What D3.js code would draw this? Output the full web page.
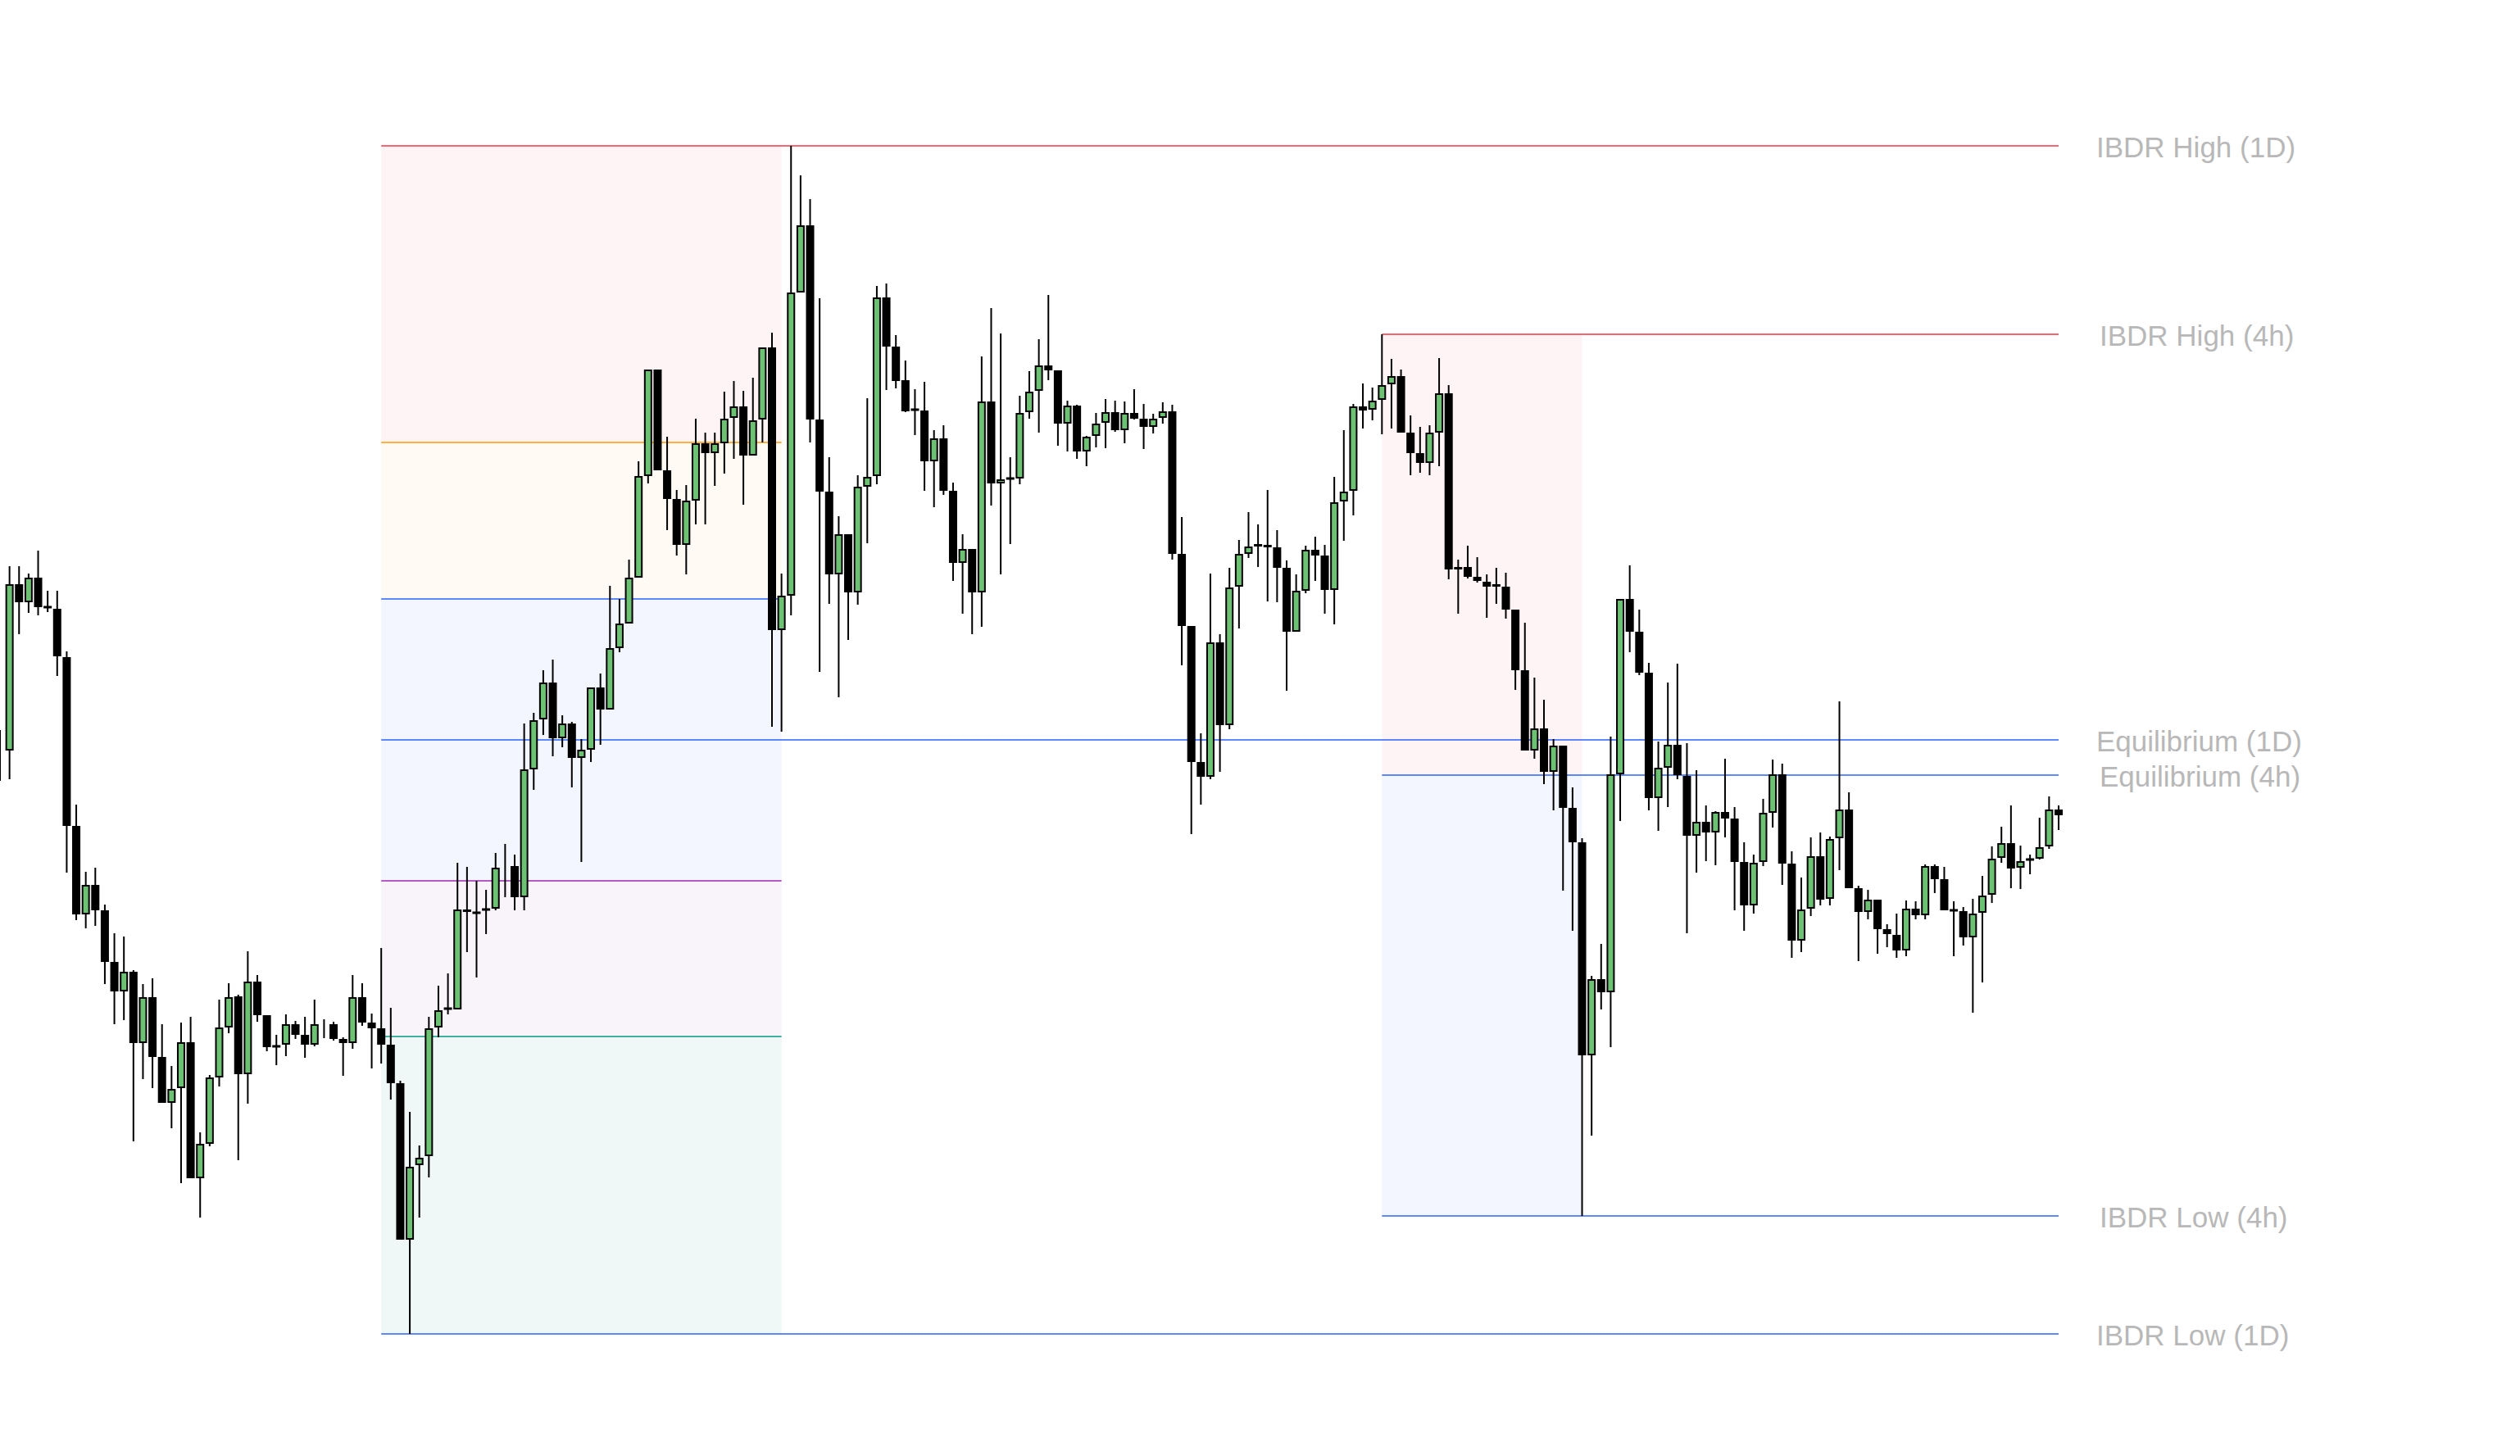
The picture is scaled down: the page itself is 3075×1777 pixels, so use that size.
<!DOCTYPE html>
<html>
<head>
<meta charset="utf-8">
<script src="https://cdn.jsdelivr.net/npm/d3@7"></script>
<style>
html,body{margin:0;padding:0;background:#ffffff;}
svg{display:block;}
</style>
</head>
<body>
<svg id="chart" width="3075" height="1777"></svg>
<script>
// ---- candle data (price units) ----
const open = [1087,1084,1287,1265,1295,1260,1257,1198,992,884,
920,889,826,790,814,727,783,710,654,672,
728,562,604,685,746,784,689,802,761,724,
725,750,737,725,751,750,732,727,783,752,
745,725,678,487,578,589,746,768,768,890,
885,891,891,943,943,905,1061,1122,1167,1099,
1117,1075,1085,1161,1134,1209,1239,1295,1419,1549,
1426,1391,1335,1389,1459,1447,1459,1490,1504,1444,
1488,1576,1231,1273,1643,1725,1488,1400,1299,1348,
1277,1406,1419,1637,1577,1536,1501,1499,1437,1465,
1401,1313,1330,1277,1510,1410,1415,1416,1497,1523,
1554,1548,1483,1505,1449,1468,1484,1497,1475,1496,
1489,1479,1490,1498,1324,1236,1070,1052,1216,1115,
1284,1324,1335,1334,1332,1307,1229,1279,1329,1322,
1280,1388,1401,1504,1500,1512,1531,1541,1472,1447,
1435,1472,1520,1305,1308,1296,1290,1286,1284,1256,
1182,1084,1111,1058,1090,1014,972,712,805,789,
1055,1269,1229,1179,1026,1063,1091,1053,980,997,
984,1009,1001,948,895,948,1008,1055,946,852,
891,955,903,977,1012,916,887,902,866,859,
840,891,883,943,927,890,888,856,886,908,
953,971,941,952,952,967,1012];

const high = [1109,1309,1309,1300,1328,1279,1279,1205,1018,936,
941,896,861,857,816,799,806,750,699,752,
759,618,688,780,800,786,839,810,761,737,
762,754,759,780,756,753,734,810,800,763,
843,770,681,643,602,759,797,812,947,942,
925,914,959,970,957,1117,1130,1182,1195,1127,
1119,1098,1161,1178,1285,1269,1317,1437,1549,1549,
1467,1402,1408,1489,1472,1472,1522,1535,1523,1539,
1576,1594,1300,1822,1786,1757,1636,1442,1370,1348,
1420,1514,1651,1654,1591,1560,1525,1534,1475,1481,
1411,1348,1330,1565,1624,1593,1442,1517,1547,1586,
1640,1548,1511,1506,1468,1496,1513,1511,1510,1525,
1507,1495,1509,1506,1369,1236,1105,1300,1226,1307,
1341,1375,1360,1402,1353,1316,1299,1334,1345,1335,
1418,1475,1507,1532,1527,1592,1562,1549,1493,1479,
1481,1563,1530,1317,1334,1320,1299,1307,1301,1256,
1240,1173,1146,1098,1090,1039,977,809,848,1101,
1269,1310,1256,1191,1095,1167,1190,1093,1060,1017,
1010,1074,1015,972,957,1025,1073,1068,961,929,
978,984,979,1144,1033,919,914,902,872,885,
901,900,945,945,942,900,893,903,931,967,
991,1017,968,957,1002,1028,1017];

const low = [1047,1049,1226,1252,1249,1253,1175,935,877,867,
870,799,750,755,607,683,672,654,623,556,
562,514,601,674,739,584,653,753,717,700,
711,732,709,723,733,730,687,720,748,696,
702,658,487,372,514,563,734,762,768,838,
807,860,889,905,889,889,1036,1103,1077,1088,
1039,948,1070,1091,1134,1204,1239,1295,1410,1426,
1353,1322,1299,1360,1360,1407,1422,1440,1384,1444,
1460,1113,1107,1249,1643,1460,1180,1263,1149,1219,
1262,1337,1409,1524,1526,1497,1469,1401,1381,1396,
1291,1251,1226,1235,1383,1299,1336,1409,1489,1472,
1536,1456,1449,1440,1431,1454,1453,1473,1459,1488,
1452,1471,1483,1317,1188,982,1018,1049,1058,1110,
1233,1319,1308,1266,1265,1157,1229,1276,1291,1251,
1238,1340,1371,1477,1487,1470,1477,1472,1420,1423,
1420,1431,1293,1251,1294,1289,1246,1263,1245,1158,
1084,1074,1043,1011,913,864,516,614,768,722,
998,1204,1176,1011,986,1015,1049,861,935,949,
944,978,889,864,885,943,990,920,831,838,
882,895,895,938,916,827,878,836,844,831,
833,878,878,910,889,833,846,764,801,898,
947,916,915,933,951,964,987];

const close = [1085,1287,1265,1295,1259,1258,1199,992,884,920,
889,826,790,814,727,783,710,654,671,728,
562,604,685,746,783,689,802,761,722,722,
750,737,725,750,749,732,727,783,752,745,
725,678,487,576,587,745,767,770,890,887,
887,889,941,945,905,1061,1121,1167,1099,1117,
1075,1085,1161,1134,1209,1239,1295,1419,1549,1426,
1391,1335,1389,1459,1447,1459,1489,1504,1444,1487,
1576,1231,1273,1643,1725,1488,1400,1299,1348,1277,
1406,1418,1637,1577,1535,1498,1499,1437,1465,1401,
1313,1330,1277,1510,1410,1415,1417,1496,1522,1554,
1548,1483,1505,1449,1467,1483,1497,1475,1496,1489,
1479,1489,1498,1324,1236,1070,1052,1216,1115,1283,
1324,1333,1334,1333,1307,1229,1279,1329,1322,1280,
1387,1400,1504,1499,1511,1530,1541,1472,1447,1435,
1472,1520,1305,1308,1296,1291,1284,1285,1256,1182,
1084,1111,1058,1090,1014,972,712,805,789,1055,
1269,1229,1179,1026,1063,1091,1054,980,997,984,
1009,1001,948,895,947,1008,1055,946,852,890,
955,902,976,1012,916,887,902,866,860,840,
891,883,943,927,889,888,856,885,907,952,
971,940,949,950,966,1012,1005];

// ---- IBDR levels ----
const range1D = {start: 40, end: 82, high: 1822, upper: 1460, blueTop: 1269, eq: 1097, purple: 925, teal: 735, low: 372};
const range4h = {start: 145, end: 166, high: 1592, eq: 1054, low: 516};
const labelNames = ["IBDR High (1D)", "IBDR High (4h)", "Equilibrium (1D)", "Equilibrium (4h)", "IBDR Low (4h)", "IBDR Low (1D)"];

// ---- build ----
const n = open.length;
const idx = d3.range(n);
const svg = d3.select("#chart");

const x = d3.scalePoint().domain(idx).range([0, 2512]);
const y = d3.scaleLinear().domain([range1D.low, range1D.high]).range([1628, 178]);
const lastX = x(n - 1);

const gZones = svg.append("g");
const gLines = svg.append("g");
const gCandles = svg.append("g");
const gLabels = svg.append("g");

function zone(i0, i1, p0, p1, fill) {
  gZones.append("rect")
    .attr("x", x(i0)).attr("width", x(i1) - x(i0))
    .attr("y", y(Math.max(p0, p1))).attr("height", Math.abs(y(p0) - y(p1)))
    .attr("fill", fill);
}
function hline(i0, xEnd, p, color) {
  gLines.append("line")
    .attr("x1", x(i0)).attr("x2", xEnd)
    .attr("y1", y(p)).attr("y2", y(p))
    .attr("stroke", color).attr("stroke-width", 1.7);
}

// 1D zones
zone(range1D.start, range1D.end, range1D.high, range1D.upper, "#fff4f5");
zone(range1D.start, range1D.end, range1D.upper, range1D.blueTop, "#fffaf3");
zone(range1D.start, range1D.end, range1D.blueTop, range1D.purple, "#f3f6fe");
zone(range1D.start, range1D.end, range1D.purple, range1D.teal, "#f8f4fa");
zone(range1D.start, range1D.end, range1D.teal, range1D.low, "#eff8f6");
// 4h zones
zone(range4h.start, range4h.end, range4h.high, range4h.eq, "#fff4f5");
zone(range4h.start, range4h.end, range4h.eq, range4h.low, "#f3f6fe");

const RED = "#f23645", BLUE = "#2962ff";
// 1D lines
hline(range1D.start, lastX, range1D.high, RED);
hline(range1D.start, x(range1D.end), range1D.upper, "#ff9800");
hline(range1D.start, x(range1D.end), range1D.blueTop, BLUE);
hline(range1D.start, lastX, range1D.eq, BLUE);
hline(range1D.start, x(range1D.end), range1D.purple, "#9c27b0");
hline(range1D.start, x(range1D.end), range1D.teal, "#089981");
hline(range1D.start, lastX, range1D.low, BLUE);
// 4h lines
hline(range4h.start, lastX, range4h.high, RED);
hline(range4h.start, lastX, range4h.eq, BLUE);
hline(range4h.start, lastX, range4h.low, BLUE);

// candles
const data = idx.map(i => ({i, o: open[i], h: high[i], l: low[i], c: close[i]}));
const bodyW = 8;
gCandles.selectAll("line.wick").data(data).enter().append("line")
  .attr("class", "wick")
  .attr("x1", d => x(d.i)).attr("x2", d => x(d.i))
  .attr("y1", d => y(d.h)).attr("y2", d => y(d.l))
  .attr("stroke", "#000").attr("stroke-width", 2);
gCandles.selectAll("rect.body").data(data).enter().append("rect")
  .attr("class", "body")
  .attr("x", d => x(d.i) - bodyW / 2)
  .attr("width", bodyW)
  .attr("y", d => {
    const t = y(Math.max(d.o, d.c)), b = y(Math.min(d.o, d.c));
    return (b - t) > 2 ? t + 1 : (t + b) / 2 - 0.5;
  })
  .attr("height", d => {
    const t = y(Math.max(d.o, d.c)), b = y(Math.min(d.o, d.c));
    return (b - t) > 2 ? b - t - 2 : 1;
  })
  .attr("fill", d => d.c > d.o ? "#6dc173" : "#000")
  .attr("stroke", "#000").attr("stroke-width", 2);

// labels
const labelLevels = [range1D.high, range4h.high, range1D.eq, range4h.eq, range4h.low, range1D.low];
const labelIs1D = [true, false, true, false, false, true];
gLabels.selectAll("text").data(labelNames).enter().append("text")
  .attr("x", (d, k) => lastX + (labelIs1D[k] ? 46 : 50))
  .attr("y", (d, k) => y(labelLevels[k]) + 14)
  .attr("font-family", "'Liberation Sans', Arial, Helvetica, sans-serif")
  .attr("font-size", 35)
  .attr("fill", "#b8b8b8")
  .text(d => d);
</script>
</body>
</html>
